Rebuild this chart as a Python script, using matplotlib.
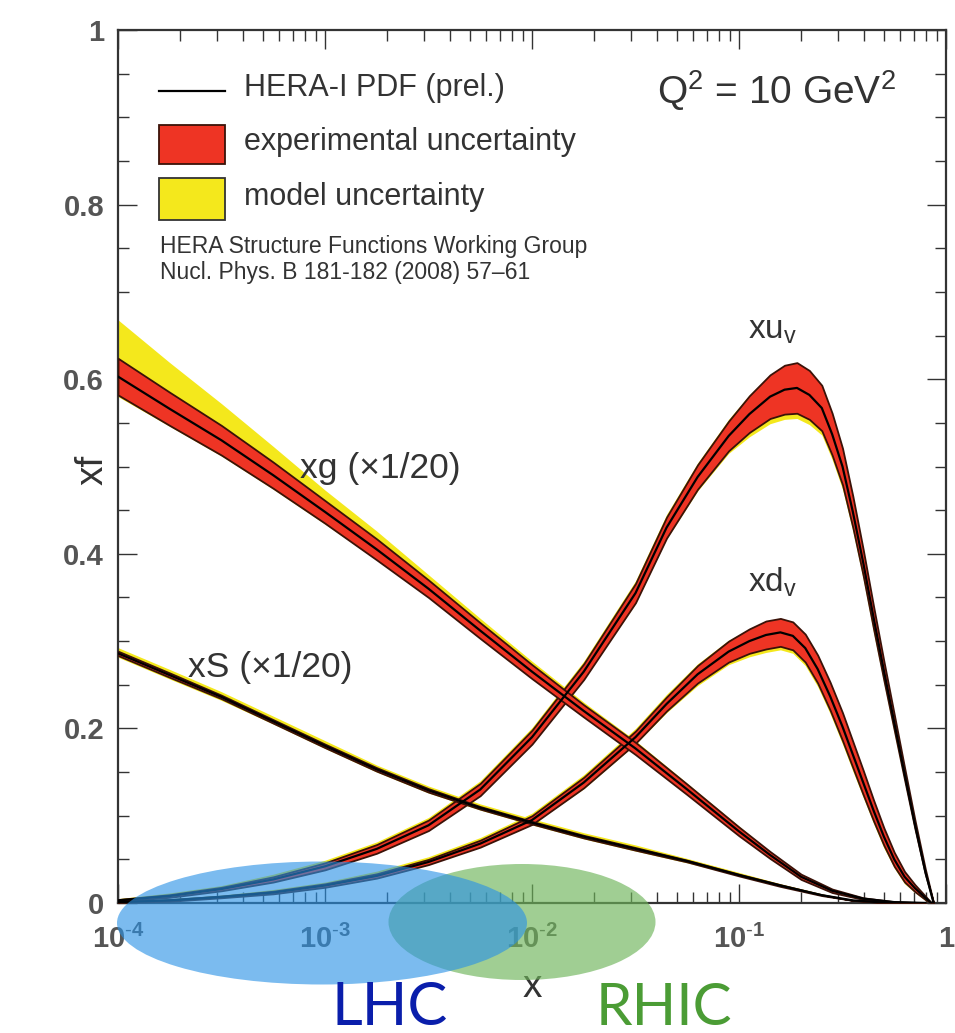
import numpy as np
import matplotlib
matplotlib.use("Agg")
import matplotlib.pyplot as plt
from matplotlib.patches import Ellipse, Rectangle
from matplotlib.lines import Line2D
from matplotlib.ticker import FixedLocator, MultipleLocator, LogLocator, FuncFormatter

plt.rcParams['font.family'] = ['Liberation Sans', 'DejaVu Sans']
plt.rcParams['mathtext.fontset'] = 'custom'
plt.rcParams['mathtext.rm'] = 'Liberation Sans'
plt.rcParams['mathtext.it'] = 'Liberation Sans:italic'
plt.rcParams['mathtext.bf'] = 'Liberation Sans:bold'

# --- values (Q^2 = 10 GeV^2), x given as log10(x) ---
# xu_v
uv_logx = [-4.0, -3.75, -3.5, -3.25, -3.0, -2.75, -2.5, -2.25, -2.0, -1.75,
           -1.5, -1.35, -1.2, -1.05, -0.95, -0.85, -0.78, -0.72, -0.66, -0.6,
           -0.55, -0.5, -0.45, -0.4, -0.35, -0.3, -0.25, -0.2, -0.15, -0.1, -0.06]
uv_c = [0.003, 0.008, 0.016, 0.027, 0.042, 0.062, 0.089, 0.130, 0.190, 0.265,
        0.355, 0.430, 0.488, 0.535, 0.560, 0.580, 0.588, 0.590, 0.582, 0.567,
        0.537, 0.500, 0.448, 0.390, 0.327, 0.266, 0.207, 0.148, 0.090, 0.036, 0.0]
uv_exp = [0.001, 0.0015, 0.002, 0.003, 0.004, 0.005, 0.006, 0.007, 0.008, 0.009,
          0.011, 0.012, 0.014, 0.017, 0.021, 0.025, 0.028, 0.029, 0.028, 0.026,
          0.024, 0.021, 0.018, 0.015, 0.013, 0.011, 0.009, 0.007, 0.005, 0.003, 0.0]
uv_mod_up = [0.001, 0.002, 0.002, 0.003, 0.003, 0.003, 0.003, 0.003, 0.003, 0.003,
             0.003, 0.003, 0.002, 0.002, 0.001, 0.0, 0.0, 0.0, 0.0, 0.0,
             0.0, 0.0, 0.0, 0.0, 0.0, 0.0, 0.0, 0.0, 0.0, 0.0, 0.0]
uv_mod_dn = [0.0, 0.0, 0.0, 0.0, 0.0, 0.0, 0.0, 0.0, 0.0, 0.0,
             0.001, 0.001, 0.002, 0.003, 0.005, 0.006, 0.006, 0.006, 0.006, 0.005,
             0.005, 0.005, 0.004, 0.004, 0.004, 0.003, 0.003, 0.002, 0.002, 0.001, 0.0]

# xd_v
dv_logx = [-4.0, -3.75, -3.5, -3.25, -3.0, -2.75, -2.5, -2.25, -2.0, -1.75,
           -1.5, -1.35, -1.2, -1.05, -0.95, -0.87, -0.8, -0.74, -0.68, -0.62,
           -0.56, -0.5, -0.45, -0.4, -0.35, -0.3, -0.25, -0.2, -0.15, -0.1, -0.07]
dv_c = [0.001, 0.003, 0.007, 0.012, 0.020, 0.031, 0.047, 0.068, 0.095, 0.138,
        0.190, 0.228, 0.262, 0.288, 0.300, 0.307, 0.310, 0.306, 0.292, 0.268,
        0.237, 0.202, 0.170, 0.138, 0.106, 0.076, 0.050, 0.030, 0.017, 0.006, 0.0]
dv_exp = [0.0005, 0.001, 0.001, 0.0015, 0.002, 0.0025, 0.003, 0.004, 0.005, 0.006,
          0.007, 0.008, 0.010, 0.012, 0.014, 0.016, 0.016, 0.016, 0.016, 0.016,
          0.016, 0.016, 0.015, 0.014, 0.012, 0.010, 0.008, 0.006, 0.004, 0.002, 0.0]
dv_mod_up = [0.0, 0.001, 0.001, 0.002, 0.002, 0.003, 0.003, 0.003, 0.003, 0.003,
             0.003, 0.003, 0.002, 0.001, 0.0, 0.0, 0.0, 0.0, 0.0, 0.0,
             0.0, 0.0, 0.0, 0.0, 0.0, 0.0, 0.0, 0.0, 0.0, 0.0, 0.0]
dv_mod_dn = [0.0, 0.0, 0.0, 0.0, 0.0, 0.0, 0.0, 0.0, 0.0, 0.001,
             0.001, 0.002, 0.003, 0.003, 0.004, 0.004, 0.004, 0.004, 0.004, 0.004,
             0.004, 0.004, 0.004, 0.003, 0.003, 0.003, 0.002, 0.002, 0.001, 0.001, 0.0]

# xg (x1/20)
g_logx = [-4.0, -3.75, -3.5, -3.25, -3.0, -2.75, -2.5, -2.25, -2.0, -1.75,
          -1.5, -1.25, -1.0, -0.85, -0.7, -0.55, -0.4, -0.25, -0.1]
g_c = [0.603, 0.566, 0.530, 0.490, 0.448, 0.405, 0.360, 0.312, 0.265, 0.220,
       0.177, 0.130, 0.082, 0.055, 0.030, 0.014, 0.005, 0.001, 0.0]
g_exp = [0.021, 0.019, 0.017, 0.015, 0.013, 0.012, 0.010, 0.009, 0.008, 0.007,
         0.007, 0.006, 0.005, 0.004, 0.003, 0.002, 0.001, 0.0005, 0.0]
g_mod_up = [0.044, 0.034, 0.025, 0.018, 0.012, 0.009, 0.006, 0.005, 0.004, 0.003,
            0.002, 0.001, 0.001, 0.0, 0.0, 0.0, 0.0, 0.0, 0.0]
g_mod_dn = [0.002, 0.001, 0.001, 0.001, 0.001, 0.0, 0.0, 0.0, 0.0, 0.0,
            0.0, 0.0, 0.0, 0.0, 0.0, 0.0, 0.0, 0.0, 0.0]

# xS (x1/20)
s_logx = [-4.0, -3.75, -3.5, -3.25, -3.0, -2.75, -2.5, -2.25, -2.0, -1.75,
          -1.5, -1.25, -1.0, -0.8, -0.6, -0.45, -0.3, -0.15]
s_c = [0.286, 0.261, 0.236, 0.208, 0.180, 0.153, 0.129, 0.109, 0.092, 0.076,
       0.062, 0.048, 0.032, 0.020, 0.009, 0.003, 0.0005, 0.0]
s_exp = [0.0025, 0.0025, 0.002, 0.002, 0.002, 0.002, 0.002, 0.0015, 0.0015, 0.0015,
         0.0015, 0.001, 0.001, 0.001, 0.0005, 0.0, 0.0, 0.0]
s_mod_up = [0.004, 0.004, 0.004, 0.004, 0.004, 0.003, 0.003, 0.003, 0.003, 0.003,
            0.003, 0.002, 0.002, 0.001, 0.001, 0.0, 0.0, 0.0]
s_mod_dn = [0.002, 0.002, 0.002, 0.001, 0.001, 0.001, 0.001, 0.001, 0.001, 0.001,
            0.001, 0.001, 0.0, 0.0, 0.0, 0.0, 0.0, 0.0]

curves = [
    (uv_logx, uv_c, uv_exp, uv_mod_up, uv_mod_dn),
    (dv_logx, dv_c, dv_exp, dv_mod_up, dv_mod_dn),
    (g_logx, g_c, g_exp, g_mod_up, g_mod_dn),
    (s_logx, s_c, s_exp, s_mod_up, s_mod_dn),
]

RED = '#ee3424'
YELLOW = '#f4e81c'
EDGE = '#3a1208'
TXT = '#333333'

fig = plt.figure(figsize=(9.55, 10.33), dpi=100)
W, H = 955, 1033
ax_l, ax_r, ax_t, ax_b = 118, 946, 30, 903
ax = fig.add_axes([ax_l / W, 1 - ax_b / H, (ax_r - ax_l) / W, (ax_b - ax_t) / H])

for lx, c, e, mu, md in curves:
    xs = 10 ** np.array(lx)
    c = np.array(c)
    e = np.array(e)
    lo = c - e
    hi = c + e
    ax.fill_between(xs, lo - np.array(md), hi + np.array(mu), color=YELLOW, lw=0, zorder=2)
    ax.fill_between(xs, lo, hi, facecolor=RED, edgecolor=EDGE, lw=1.3, zorder=3)
    ax.plot(xs, c, color='black', lw=1.6, zorder=4, solid_joinstyle='round')

ax.set_xscale('log')
ax.set_xlim(1e-4, 1)
ax.set_ylim(0, 1)

def xfmt(v, pos):
    if abs(v - 1) < 1e-9:
        return '1'
    return r'$\mathregular{10^{\text{-}%d}}$' % abs(int(round(np.log10(v))))

ax.xaxis.set_major_locator(FixedLocator([1e-4, 1e-3, 1e-2, 1e-1, 1]))
ax.xaxis.set_major_formatter(FuncFormatter(xfmt))
ax.xaxis.set_minor_locator(LogLocator(base=10, subs=np.arange(2, 10), numticks=20))
ax.yaxis.set_major_locator(MultipleLocator(0.2))
ax.yaxis.set_minor_locator(MultipleLocator(0.05))
ax.yaxis.set_major_formatter(FuncFormatter(lambda v, p: '%g' % round(v, 2)))

ax.tick_params(which='both', direction='in', top=True, right=True, color='#333333')
ax.tick_params(which='major', length=14, width=1.0)
ax.tick_params(which='minor', length=8, width=1.0)
ax.tick_params(axis='y', which='major', labelsize=21, labelcolor='#555555', pad=10)
ax.tick_params(axis='x', which='major', labelsize=21, labelcolor='#555555', pad=16)
for lab in ax.get_xticklabels() + ax.get_yticklabels():
    lab.set_fontweight('bold')
for sp in ax.spines.values():
    sp.set_linewidth(1.6)
    sp.set_color('#333333')

ax.text(-0.031, 0.496, 'xf', transform=ax.transAxes, rotation=90, ha='center',
        va='center', fontsize=28, color=TXT)
ax.text(0.5, -0.076, 'x', transform=ax.transAxes, ha='center', va='top',
        fontsize=28, color=TXT)

# curve labels
ax.text(0.145, 0.656, r'xu$_\mathregular{v}$', fontsize=24, color=TXT, ha='center', va='center')
ax.text(0.145, 0.367, r'xd$_\mathregular{v}$', fontsize=24, color=TXT, ha='center', va='center')
ax.text(7.6e-4, 0.498, u'xg (\u00d71/20)', fontsize=25.5, color=TXT, ha='left', va='center')
ax.text(2.19e-4, 0.270, u'xS (\u00d71/20)', fontsize=25.5, color=TXT, ha='left', va='center')
ax.text(0.651, 0.931, r'Q$^\mathregular{2}$ = 10 GeV$^\mathregular{2}$', transform=ax.transAxes,
        fontsize=28, color=TXT, ha='left', va='center')

# overlay in pixel coordinates: legend, ellipses, collider names
ov = fig.add_axes([0, 0, 1, 1], facecolor='none')
ov.set_xlim(0, W)
ov.set_ylim(H, 0)
ov.axis('off')

ov.add_line(Line2D([159, 225], [91, 91], color='black', lw=1.6))
ov.add_patch(Rectangle((159, 125), 66, 39, facecolor=RED, edgecolor=EDGE, lw=1.3))
ov.add_patch(Rectangle((159, 178), 66, 42, facecolor=YELLOW, edgecolor='#333333', lw=1.3))
ov.text(244, 88, 'HERA-I PDF (prel.)', fontsize=22, color=TXT, va='center')
ov.text(244, 142, 'experimental uncertainty', fontsize=22, color=TXT, va='center')
ov.text(244, 197, 'model uncertainty', fontsize=22, color=TXT, va='center')
ov.text(160, 247, 'HERA Structure Functions Working Group', fontsize=16.5, color=TXT, va='center')
ov.text(160, 273, u'Nucl. Phys. B 181-182 (2008) 57\u201361', fontsize=16.5, color=TXT, va='center')

ov.add_patch(Ellipse((522, 922), 267, 116, facecolor='#6eb45a', edgecolor='none', alpha=0.65))
ov.add_patch(Ellipse((322, 923), 410, 123, facecolor='#2a92e6', edgecolor='none', alpha=0.62))

ov.text(390, 1025, 'LHC', fontsize=43, color='#0a1eab', family='Lato', ha='center', va='baseline')
ov.text(664, 1025, 'RHIC', fontsize=42, color='#4b9c35', family='Lato', ha='center', va='baseline')

fig.savefig('out.png', dpi=100)
